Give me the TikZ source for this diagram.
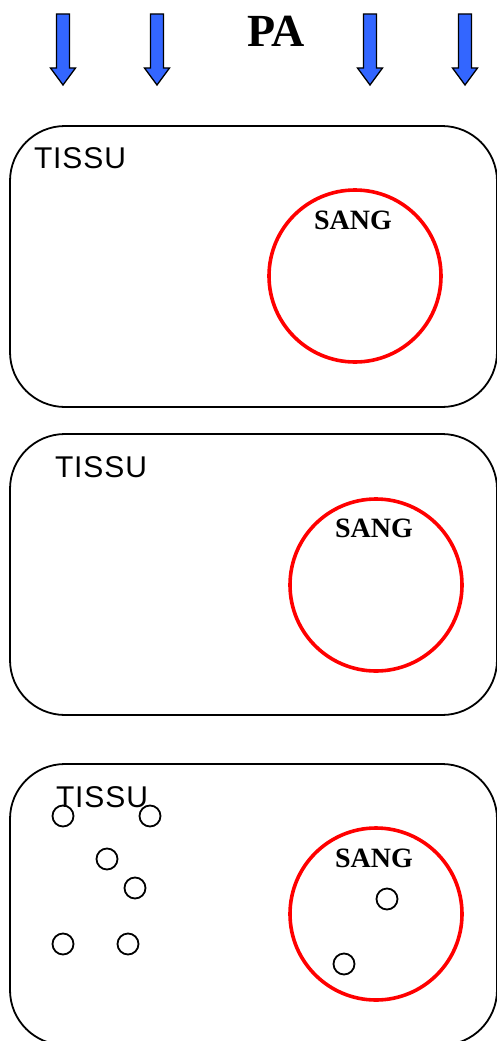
\documentclass[tikz,border=0pt]{standalone}
\usepackage{fontspec}
\setmainfont{Liberation Serif}
\newfontfamily\tissufont[LetterSpace=3]{Liberation Sans}
\definecolor{arrowblue}{HTML}{3366FF}
\begin{document}
\begin{tikzpicture}[x=1pt,y=-1pt,
  tissubox/.style={draw=black,line width=1.8pt,rounded corners=55pt},
  blood/.style={draw=red,line width=3.6pt},
  cell/.style={draw=black,line width=1.8pt,circle,minimum size=21pt,inner sep=0pt},
  tissulabel/.style={font=\tissufont\fontsize{30}{30}\selectfont,inner sep=0pt},
  sanglabel/.style={font=\bfseries\fontsize{28}{28}\selectfont,inner sep=0pt},
  blockarrow/.style={draw=black,line width=1.3pt,fill=arrowblue,line join=miter}]
\useasboundingbox (0,0) rectangle (496,1041);
% arrows
\foreach \ax in {63,157,370,465}{
  \draw[blockarrow] (\ax-6.5,14) -- (\ax+6.5,14) -- (\ax+6.5,68) -- (\ax+12.5,68)
    -- (\ax,85) -- (\ax-12.5,68) -- (\ax-6.5,68) -- cycle;
}
\node[font=\bfseries\fontsize{46}{46}\selectfont,inner sep=0pt] (pa) at (276,31) {PA};
% box 1
\draw[tissubox] (10,126) rectangle (497,407);
\node[tissulabel] (t1) at (80,158) {TISSU};
\draw[blood] (355,276) circle (86);
\node[sanglabel] (s1) at (353,220) {SANG};
% box 2
\draw[tissubox] (10,434) rectangle (497,715);
\node[tissulabel] (t2) at (101,467) {TISSU};
\node[coordinate] (c2) at (376,585) {};
\draw[blood] (c2) circle (86);
\node[sanglabel] (s2) at (374,528) {SANG};
% box 3
\draw[tissubox] (10,764) rectangle (497,1045);
\node[tissulabel] (t3) at (102,797) {TISSU};
\draw[blood] (376,914) circle (86);
\node[sanglabel] (s3) at (374,858) {SANG};
\node[cell] (m1) at (63,816) {};
\node[cell] (m2) at (150,816) {};
\node[cell] (m3) at (107,859) {};
\node[cell] (m4) at (135,888) {};
\node[cell] (m5) at (63,944) {};
\node[cell] (m6) at (128,944) {};
\node[cell] (m7) at (387,899) {};
\node[cell] (m8) at (344,964) {};
\end{tikzpicture}
\end{document}
